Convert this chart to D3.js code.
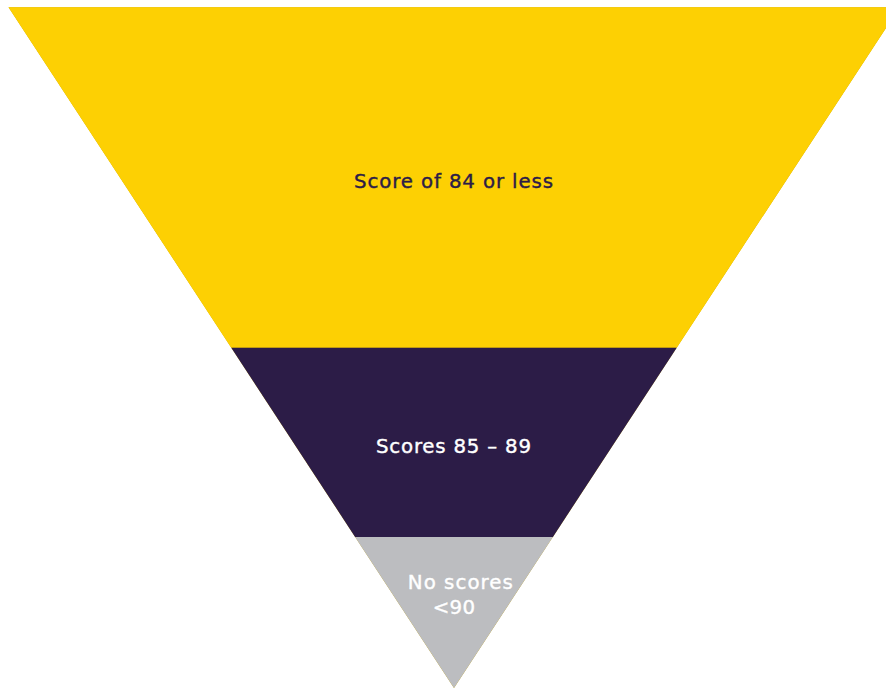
<!DOCTYPE html>
<html>
<head>
<meta charset="utf-8">
<script src="https://cdn.jsdelivr.net/npm/d3@7"></script>
<style>
  html, body { margin: 0; padding: 0; background: #ffffff; }
  svg { display: block; }
</style>
</head>
<body>
<svg id="chart" width="886" height="688"></svg>
<script>
// Funnel stages (top to bottom) and their share of the funnel height
const stages = ["Score of 84 or less", "Scores 85 \u2013 89", "No scores <90"];
const values = [50, 27.8, 22.2];
const labelLines = [["Score of 84 or less"], ["Scores 85 \u2013 89"], ["No scores", "<90"]];
const colors = ["#FDD003", "#2C1C47", "#BCBDC0"];
const textColors = ["#2C1C47", "#FFFFFF", "#FFFFFF"];

const W = 886, H = 688;
const svg = d3.select("#chart");

const total = d3.sum(values);
const cum = [0];
values.forEach((v, i) => cum.push(cum[i] + v));

const cx = 454;
const y = d3.scaleLinear().domain([0, total]).range([7.3, 688]);
const half = d3.scaleLinear().domain([0, total]).range([445.5, 0]);

function bandPath(a, b) {
  return [
    [cx - half(a), y(a)], [cx + half(a), y(a)],
    [cx + half(b), y(b)], [cx - half(b), y(b)]
  ];
}

const line = d3.line();

// underlying full triangle (gives the thin edge seen on the lower bands)
svg.append("path")
  .attr("d", line(bandPath(0, total)) + "Z")
  .attr("fill", "#C9A400");

svg.selectAll("path.band")
  .data(values)
  .join("path")
  .attr("class", "band")
  .attr("d", (d, i) => line(bandPath(cum[i], cum[i + 1])) + "Z")
  .attr("fill", (d, i) => colors[i]);

// labels (line widths tuned to the reference's wide geometric typeface)
const labelPos = [
  { y: 187.7, dy: 0, w: [199] },
  { y: 453.3, dy: 0, w: [155] },
  { y: 589, dy: 25, w: [105, 42.5] }
];
const lineX = [[453.5], [453.5], [460.3, 453.9]];
const fontSize = 19.8;
const fontFamily = "'DejaVu Sans', sans-serif";

labelLines.forEach((lines, i) => {
  const g = svg.append("text")
    .attr("text-anchor", "middle")
    .attr("font-family", fontFamily)
    .attr("font-size", fontSize)
    .attr("font-weight", 400)
    .attr("stroke", textColors[i])
    .attr("stroke-width", 0.4)
    .attr("fill", textColors[i]);
  lines.forEach((t, j) => {
    g.append("tspan")
      .attr("x", lineX[i][j])
      .attr("y", labelPos[i].y + j * labelPos[i].dy)
      .attr("textLength", labelPos[i].w[j])
      .attr("lengthAdjust", "spacing")
      .text(t);
  });
});
</script>
</body>
</html>
